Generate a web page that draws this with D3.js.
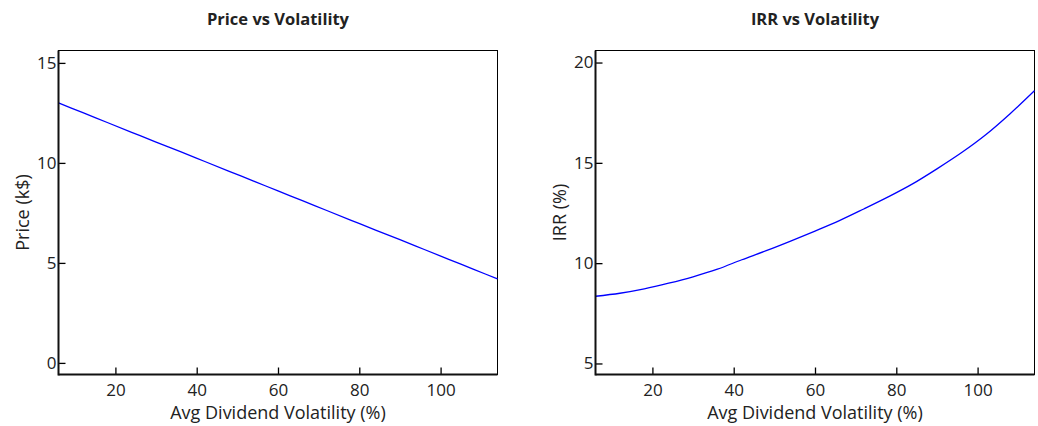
<!DOCTYPE html>
<html>
<head>
<meta charset="utf-8">
<script src="https://cdn.jsdelivr.net/npm/d3@7"></script>
<style>
  html, body { margin: 0; padding: 0; background: #fff; }
  svg { display: block; }
  text { font-family: "Open Sans", "Noto Sans", sans-serif; fill: #222; }
</style>
</head>
<body>
<svg id="chart" width="1038" height="426"></svg>
<script>
// ---- data ----
const volatility = [6, 12, 18, 24, 30, 36, 42, 48, 54, 60, 66, 72, 78, 84, 90, 96, 102, 108, 114];
const price = [13.00, 12.51, 12.02, 11.53, 11.04, 10.56, 10.07, 9.58, 9.09, 8.60, 8.11, 7.62, 7.13, 6.64, 6.16, 5.67, 5.18, 4.69, 4.20];
const irr = [8.35, 8.50, 8.72, 9.00, 9.32, 9.70, 10.17, 10.62, 11.10, 11.60, 12.12, 12.70, 13.30, 13.95, 14.70, 15.50, 16.40, 17.45, 18.60];
const xTicks = [20, 40, 60, 80, 100];
const priceTicks = [0, 5, 10, 15];
const irrTicks = [5, 10, 15, 20];
const xLabel = "Avg Dividend Volatility (%)";

const panels = [
  { title: "Price vs Volatility", yLabel: "Price (k$)", values: price, yDomain: [-0.58, 15.62], yTicks: priceTicks,
    left: 58.5, right: 497.5, ylabelX: 23 },
  { title: "IRR vs Volatility", yLabel: "IRR (%)", values: irr, yDomain: [4.45, 20.6], yTicks: irrTicks,
    left: 595.5, right: 1034.5, ylabelX: 560 }
];

const plotTop = 50.5, plotBottom = 374.5;
const svg = d3.select("#chart");

panels.forEach(p => {
  const x = d3.scaleLinear().domain([6, 114]).range([p.left, p.right]);
  const y = d3.scaleLinear().domain(p.yDomain).range([plotBottom, plotTop]);
  const g = svg.append("g");

  g.append("rect")
    .attr("x", p.left).attr("y", plotTop)
    .attr("width", p.right - p.left).attr("height", plotBottom - plotTop)
    .attr("fill", "none").attr("stroke", "#000").attr("stroke-width", 1);

  const line = d3.line().x((d, i) => x(volatility[i])).y(d => y(d)).curve(d3.curveMonotoneX);
  g.append("path").datum(p.values)
    .attr("d", line)
    .attr("fill", "none").attr("stroke", "#0000ff").attr("stroke-width", 1.3);

  const xa = g.append("g").attr("transform", `translate(0,${plotBottom})`)
    .call(d3.axisBottom(x).tickValues(xTicks).tickSizeInner(-7).tickSizeOuter(0).tickPadding(9));
  const ya = g.append("g").attr("transform", `translate(${p.left},0)`)
    .call(d3.axisLeft(y).tickValues(p.yTicks).tickSizeInner(-7).tickSizeOuter(0).tickPadding(2));
  [xa, ya].forEach(a => {
    a.select(".domain").remove();
    a.selectAll(".tick line").attr("stroke", "#000").attr("stroke-width", 1.3);
    a.selectAll(".tick text").style("font-size", "17px").attr("fill", "#222")
      .style("font-family", '"Open Sans", "Noto Sans", sans-serif');
  });

  g.append("line").attr("x1", p.left).attr("x2", p.left).attr("y1", plotTop).attr("y2", plotBottom + 1)
    .attr("stroke", "#111").attr("stroke-width", 2);
  g.append("line").attr("x1", p.left).attr("x2", p.right).attr("y1", plotBottom).attr("y2", plotBottom)
    .attr("stroke", "#111").attr("stroke-width", 2);

  const cx = (p.left + p.right) / 2;
  g.append("text").attr("x", cx).attr("y", 25).attr("text-anchor", "middle")
    .style("font-size", "16.5px").style("font-weight", "bold").text(p.title);
  g.append("text").attr("x", cx).attr("y", 419).attr("text-anchor", "middle")
    .style("font-size", "18px").text(xLabel);
  g.append("text").attr("transform", `translate(${p.ylabelX},${(plotTop + plotBottom) / 2}) rotate(-90)`)
    .attr("text-anchor", "middle").attr("dy", "0.35em")
    .style("font-size", "18px").text(p.yLabel);
});
</script>
</body>
</html>
